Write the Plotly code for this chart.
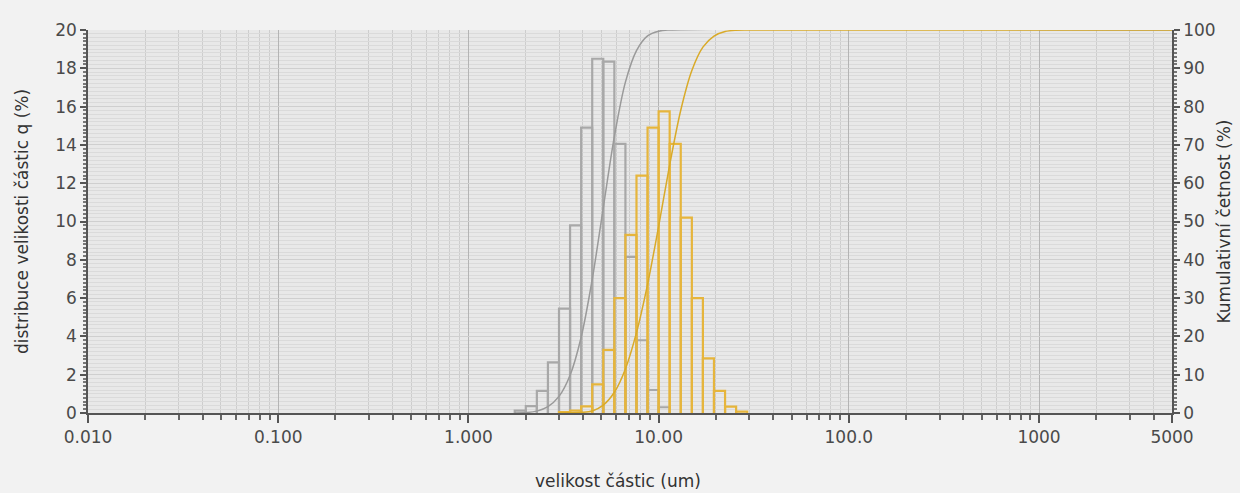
import numpy as np
import plotly.graph_objects as go

# Bin edges (um), shared by both distributions
bin_edges = [1.752, 2.003, 2.290, 2.618, 2.994, 3.423, 3.914, 4.475, 5.117, 5.851,
             6.690, 7.649, 8.746, 10.00, 11.43, 13.07, 14.95, 17.09, 19.54, 22.35,
             25.55, 29.22]

# Density distribution q (%) per bin
gray_q = [0.12, 0.36, 1.16, 2.64, 5.45, 9.8, 14.9, 18.5, 18.35, 14.05,
          8.15, 3.8, 1.2, 0.3, 0, 0, 0, 0, 0, 0, 0]
gold_q = [0, 0, 0, 0, 0.05, 0.12, 0.35, 1.5, 3.3, 6.0,
          9.3, 12.4, 14.9, 15.75, 14.05, 10.2, 6.0, 2.85, 1.16, 0.33, 0.07]

x_tickvals = [0.01, 0.1, 1, 10, 100, 1000, 5000]
x_ticktext = ["0.010", "0.100", "1.000", "10.00", "100.0", "1000", "5000"]
x_max = 5000

GRAY = "#a8a8a8"
GOLD = "#e6b53c"
GRAY_LINE = "#9a9a9a"
GOLD_LINE = "#d9aa28"


def bar_outline(edges, vals):
    xs, ys = [], []
    for i, v in enumerate(vals):
        if v <= 0:
            continue
        lo, hi = edges[i], edges[i + 1]
        xs += [lo, lo, hi, hi, None]
        ys += [0, v, v, 0, None]
    return xs, ys


def cumulative(edges, vals):
    v = np.array(vals, dtype=float)
    first = int(np.nonzero(v)[0][0])
    last = int(np.nonzero(v)[0][-1])
    c = np.cumsum(v) / v.sum() * 100
    xs = [edges[first]] + [edges[i + 1] for i in range(first, last + 1)] + [x_max]
    ys = [0] + [c[i] for i in range(first, last + 1)] + [100]
    return xs, ys


fig = go.Figure()

gx, gy = bar_outline(bin_edges, gray_q)
fig.add_trace(go.Scatter(x=gx, y=gy, mode="lines", line=dict(color=GRAY, width=2.2),
                         hoverinfo="skip", showlegend=False))
yx, yy = bar_outline(bin_edges, gold_q)
fig.add_trace(go.Scatter(x=yx, y=yy, mode="lines", line=dict(color=GOLD, width=2.2),
                         hoverinfo="skip", showlegend=False))

cgx, cgy = cumulative(bin_edges, gray_q)
fig.add_trace(go.Scatter(x=cgx, y=cgy, yaxis="y2", mode="lines",
                         line=dict(color=GRAY_LINE, width=1.5, shape="spline", smoothing=0.9),
                         showlegend=False))
cyx, cyy = cumulative(bin_edges, gold_q)
fig.add_trace(go.Scatter(x=cyx, y=cyy, yaxis="y2", mode="lines",
                         line=dict(color=GOLD_LINE, width=1.5, shape="spline", smoothing=0.9),
                         showlegend=False))

minor_x = [m * 10.0 ** d for d in range(-2, 4) for m in range(2, 10) if m * 10.0 ** d < x_max]

tickfont = dict(family="DejaVu Sans, sans-serif", size=17, color="#4a4a4a")
titlefont = dict(family="DejaVu Sans, sans-serif", size=17, color="#333333")

fig.update_layout(
    width=1240, height=493,
    margin=dict(l=88, r=68, t=30, b=80),
    paper_bgcolor="#f2f2f2",
    plot_bgcolor="#e8e8e8",
    font=tickfont,
    showlegend=False,
    xaxis=dict(
        type="log", range=[np.log10(0.01), np.log10(x_max)],
        tickmode="array", tickvals=x_tickvals, ticktext=x_ticktext,
        ticks="outside", ticklen=8, tickcolor="#555", tickwidth=1.5,
        showline=True, linecolor="#555", linewidth=1.5,
        showgrid=True, gridcolor="#b4b4b4", gridwidth=1,
        minor=dict(tickmode="array", tickvals=minor_x, ticks="outside", ticklen=5,
                   tickcolor="#666", showgrid=True, gridcolor="#cdcdcd", gridwidth=1),
        zeroline=False, automargin=False,
        tickfont=tickfont,
    ),
    yaxis=dict(
        range=[0, 20], tickmode="linear", tick0=0, dtick=2,
        ticks="outside", ticklen=6, tickcolor="#555", tickwidth=1.5,
        showline=True, linecolor="#555", linewidth=1.5,
        showgrid=True, gridcolor="#cfcfcf", gridwidth=1,
        minor=dict(dtick=0.2, ticks="outside", ticklen=3, tickcolor="#777",
                   showgrid=True, gridcolor="#dadada", gridwidth=1),
        zeroline=False, automargin=False,
        title=dict(text="distribuce velikosti částic q (%)", standoff=22, font=titlefont),
        tickfont=tickfont,
    ),
    yaxis2=dict(
        overlaying="y", side="right", range=[0, 100], tickmode="linear", tick0=0, dtick=10,
        ticks="outside", ticklen=6, tickcolor="#555", tickwidth=1.5,
        showline=True, linecolor="#555", linewidth=1.5,
        showgrid=False,
        minor=dict(dtick=1, ticks="outside", ticklen=3, tickcolor="#777", showgrid=False),
        zeroline=False, automargin=False,
        title=dict(text="Kumulativní četnost (%)", standoff=3, font=titlefont),
        tickfont=tickfont,
    ),
    annotations=[dict(
        text="velikost částic (um)", xref="paper", yref="paper",
        x=0.489, y=-0.178, xanchor="center", yanchor="middle", showarrow=False,
        font=titlefont,
    )],
)

fig.write_html("out.html", config={"displayModeBar": False},
               post_script="document.body.style.margin='0';document.body.style.overflow='hidden';")
